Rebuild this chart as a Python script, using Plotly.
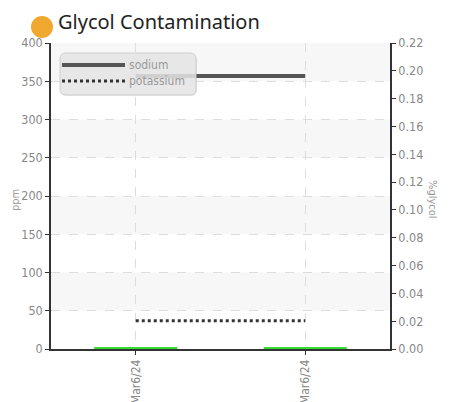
import plotly.graph_objects as go

# ---- data ----
categories = ["Mar6/24", "Mar6/24"]
x_index = [0, 1]
sodium = [357, 357]
potassium = [37, 37]
glycol = [0.0008, 0.0008]

OFF = 8  # page body margin
W, H = 449 - OFF, 402 - OFF
L, R, T, B = 51 - OFF, 59, 43 - OFF, 53
PW, PH = W - L - R, H - T - B

def px(x):
    return (x - OFF - L) / PW

def py(y):
    return 1 - (y - OFF - T) / PH

FONT = "DejaVu Sans Condensed, Roboto, Arial"

fig = go.Figure()

fig.add_trace(go.Bar(x=x_index, y=glycol, yaxis="y2", width=0.49,
                     marker=dict(color="#33dd33", line=dict(width=0)),
                     showlegend=False, name="%glycol"))
fig.add_trace(go.Scatter(x=x_index, y=sodium, mode="lines", name="sodium",
                         line=dict(color="#555555", width=4), showlegend=False))
fig.add_trace(go.Scatter(x=x_index, y=potassium, mode="lines", name="potassium",
                         line=dict(color="#333333", width=3, dash="dot"), showlegend=False))

shapes = []
for y0 in [50, 150, 250, 350]:
    shapes.append(dict(type="rect", xref="paper", yref="y", x0=0, x1=1, y0=y0, y1=y0 + 50,
                       fillcolor="#f7f7f7", line=dict(width=0), layer="below"))

lx0, lx1, ly0, ly1, r = 60, 196, 53, 95, 6
def P(x, y):
    return f"{px(x):.5f},{py(y):.5f}"
def rrect(a0, a1, b0, b1):
    return (f"M {P(a0 + r, b0)} L {P(a1 - r, b0)} Q {P(a1, b0)} {P(a1, b0 + r)} "
            f"L {P(a1, b1 - r)} Q {P(a1, b1)} {P(a1 - r, b1)} "
            f"L {P(a0 + r, b1)} Q {P(a0, b1)} {P(a0, b1 - r)} "
            f"L {P(a0, b0 + r)} Q {P(a0, b0)} {P(a0 + r, b0)} Z")
shapes.append(dict(type="path", xref="paper", yref="paper", path=rrect(lx0 + 1, lx1 + 1, ly0 + 1, ly1 + 1),
                   fillcolor="rgba(0,0,0,0.08)", line=dict(width=0), layer="above"))
shapes.append(dict(type="path", xref="paper", yref="paper", path=rrect(lx0, lx1, ly0, ly1),
                   fillcolor="rgba(232,232,232,0.85)", line=dict(color="rgba(205,205,205,1)", width=1),
                   layer="above"))
shapes.append(dict(type="line", xref="paper", yref="paper", x0=px(62), x1=px(125), y0=py(65), y1=py(65),
                   line=dict(color="#555555", width=4), layer="above"))
shapes.append(dict(type="line", xref="paper", yref="paper", x0=px(62), x1=px(125), y0=py(81), y1=py(81),
                   line=dict(color="#333333", width=3, dash="dot"), layer="above"))
shapes.append(dict(type="circle", xref="paper", yref="paper", x0=px(31), x1=px(53), y0=py(16), y1=py(38),
                   fillcolor="#f0a830", line=dict(width=0)))

annotations = [
    dict(text="Glycol Contamination", xref="paper", yref="paper", x=px(56), y=py(21),
         xanchor="left", yanchor="middle", showarrow=False,
         font=dict(family="Noto Sans, Open Sans, Arial", size=20, color="#222222")),
    dict(text="sodium", xref="paper", yref="paper", x=px(127), y=py(65), xanchor="left", yanchor="middle",
         showarrow=False, font=dict(family=FONT, size=12, color="#999999")),
    dict(text="potassium", xref="paper", yref="paper", x=px(127), y=py(81), xanchor="left", yanchor="middle",
         showarrow=False, font=dict(family=FONT, size=12, color="#999999")),
    dict(text="ppm", xref="paper", yref="paper", x=px(15), y=py(200), xanchor="center", yanchor="middle",
         textangle=-90, showarrow=False, font=dict(family=FONT, size=11, color="#999999")),
    dict(text="%glycol", xref="paper", yref="paper", x=px(433), y=py(200), xanchor="center", yanchor="middle",
         textangle=90, showarrow=False, font=dict(family=FONT, size=11, color="#999999")),
]

axis_font = dict(family=FONT, size=12.5, color="#888888")
common = dict(showline=True, linecolor="#333333", linewidth=1.5, ticks="outside", ticklen=4,
              tickcolor="#333333", zeroline=False, automargin=False)

fig.update_layout(
    width=W, height=H,
    margin=dict(l=L, r=R, t=T, b=B),
    paper_bgcolor="white", plot_bgcolor="white",
    showlegend=False,
    shapes=shapes,
    annotations=annotations,
    xaxis=dict(range=[-0.5, 1.5], tickmode="array", tickvals=x_index, ticktext=categories,
               tickangle=-90, showgrid=True, gridcolor="#dddddd", griddash="dash",
               tickfont=dict(family=FONT, size=12, color="#888888"), **common),
    yaxis=dict(range=[0, 400], dtick=50, showgrid=True, gridcolor="#dddddd", griddash="dash",
               tickfont=axis_font, **common),
    yaxis2=dict(range=[0, 0.22], dtick=0.02, tickformat=".2f", overlaying="y", side="right",
                showgrid=False, tickfont=axis_font, **common),
)

fig.write_html("out.html")
